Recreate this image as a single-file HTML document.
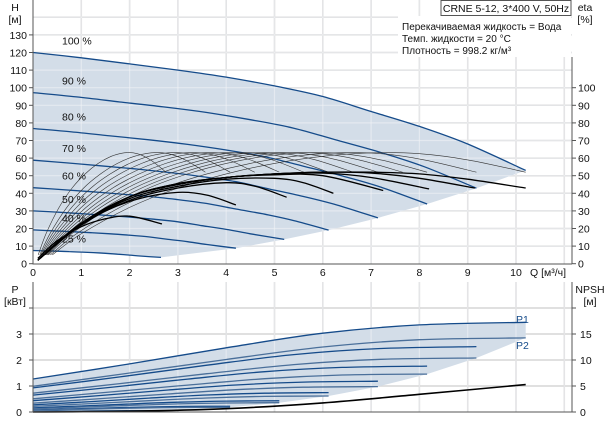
<!DOCTYPE html>
<html><head><meta charset="utf-8"><style>
html,body{margin:0;padding:0;background:#fff}
svg{display:block;font-family:"Liberation Sans",sans-serif}
</style></head><body>
<svg id="c" width="612" height="422" viewBox="0 0 612 422"></svg>
<script>
// ---- data ----
const qTicks=[0,1,2,3,4,5,6,7,8,9,10];
const hTicks=[0,10,20,30,40,50,60,70,80,90,100,110,120,130];
const etaTicks=[0,10,20,30,40,50,60,70,80,90,100];
const pTicks=[0,1,2,3];
const npshTicks=[0,5,10,15];
const speedLabels=["100 %","90 %","80 %","70 %","60 %","50 %","40 %","25 %"];
const speeds=[1,0.9,0.8,0.7,0.6,0.5,0.4,0.25];
const headQ=[
[0,1,2,3,4,5,6,7,8,9,10.2],
[0,0.9,1.8,2.7,3.6,4.5,5.4,6.3,7.2,8.1,9.18],
[0,0.8,1.6,2.4,3.2,4,4.8,5.6,6.4,7.2,8.16],
[0,0.7,1.4,2.1,2.8,3.5,4.2,4.9,5.6,6.3,7.14],
[0,0.6,1.2,1.8,2.4,3,3.6,4.2,4.8,5.4,6.12],
[0,0.5,1,1.5,2,2.5,3,3.5,4,4.5,5.2],
[0,0.4,0.8,1.2,1.6,2,2.4,2.8,3.2,3.6,4.2],
[0,0.25,0.5,0.75,1,1.25,1.5,1.75,2,2.25,2.65]];
const headH=[
[120,117,113.5,110,106,101,95,86.5,78,68,53],
[97.2,94.8,91.9,89.1,85.9,81.8,77,70.1,63.2,55.1,42.9],
[76.8,74.9,72.6,70.4,67.8,64.6,60.8,55.4,49.9,43.5,33.9],
[58.8,57.3,55.6,53.9,51.9,49.5,46.6,42.4,38.2,33.3,26],
[43.2,42.1,40.9,39.6,38.2,36.4,34.2,31.1,28.1,24.5,19.1],
[30,29.3,28.4,27.5,26.5,25.3,23.8,21.6,19.5,17,13.8],
[19.2,18.7,18.2,17.6,17,16.2,15.2,13.8,12.5,10.9,8.8],
[7.5,7.3,7.1,6.9,6.6,6.3,5.9,5.4,4.9,4.3,3.6]];
const thinQ=[0.4,1,2,3,4,5,6,7,8,9,10.2];
const thinEta=[5,17,32,43,51,57,61,63,62.5,59,52];
const thinSpeeds=[0.27,0.35,0.4,0.45,0.5,0.55,0.6,0.65,0.7,0.75,0.8,0.9,1];
const boldQ=[
[0.1,0.5,1,1.5,2,2.67],
[0.1,0.8,1.5,2.2,3,3.6,4.2],
[0.1,1,2,3,4,4.6,5.25],
[0.1,1,2,3,4,5,5.6,6.22],
[0.1,1,2,3,4,5,6,7.25],
[0.1,1,2,3,4,5,6,7,8.2],
[0.1,1,2,3,4,5,6,7,8,9.15],
[0.1,1,2,3,4,5,6,7,8,9,10.2]];
const boldEta=[
[3,13,21,25.5,27,22.6],
[2,19,30,37,40.5,39,33.4],
[2,22,36,43,46,44,37.8],
[2,22,37,44,48,48.5,46,40],
[2,22,38,45,49,50.5,50,41.6],
[2,23,38,45.5,49,51,51.5,49,42.5],
[2,23,38,45.5,49,51,52,51.5,48.5,43],
[2,23,38,45,49,51,52,52,51,48,43]];
const powerQ=[0,2,4,6,8,10.2];
const p1Values=[1.27,1.85,2.47,3.03,3.35,3.45];
const p2Values=[0.99,1.5,2.02,2.5,2.78,2.85];
const npshQ=[0,2,4,6,8,10.2];
const npshValues=[0,0.15,0.63,1.75,3.4,5.27];

// ---- scales ----
const X=q=>33+q*48.3;
const YH=h=>263.7-h*1.76;
const YP=p=>412-p*26;
const YN=n=>412-n*5.2;
const svg=document.getElementById('c');
const NS='http://www.w3.org/2000/svg';
function mk(tag,attrs,parent){const e=document.createElementNS(NS,tag);for(const k in attrs)e.setAttribute(k,attrs[k]);(parent||svg).appendChild(e);return e;}
function spline(pts){let d='M'+pts[0][0].toFixed(1)+','+pts[0][1].toFixed(1);for(let i=0;i<pts.length-1;i++){const p0=pts[i-1]||pts[i],p1=pts[i],p2=pts[i+1],p3=pts[i+2]||p2;const c1=[p1[0]+(p2[0]-p0[0])/6,p1[1]+(p2[1]-p0[1])/6],c2=[p2[0]-(p3[0]-p1[0])/6,p2[1]-(p3[1]-p1[1])/6];d+='C'+c1[0].toFixed(1)+','+c1[1].toFixed(1)+' '+c2[0].toFixed(1)+','+c2[1].toFixed(1)+' '+p2[0].toFixed(1)+','+p2[1].toFixed(1);}return d;}
function txt(s,x,y,anchor,name,size){const t=mk('text',{x:x,y:y,'font-size':size||11,'text-anchor':anchor||'start',fill:'#111'});t.textContent=s;return t;}

// ---- top chart grid ----
const gTop=mk('g',{});


for(let q=1;q<=11;q++){const l=mk('line',{x1:X(q),x2:X(q),y1:0,y2:264,stroke:'#d6d6d6','stroke-width':1.5},gTop);}
for(let h=10;h<=140;h+=10){const l=mk('line',{x1:33,x2:572,y1:YH(h),y2:YH(h),stroke:'#d6d6d6','stroke-width':1.5},gTop);}
// shaded operating area
let poly=[];headQ[0].forEach((q,i)=>poly.push([X(q),YH(headH[0][i])]));
let lower=[];for(let s=0;s<speeds.length;s++){const n=headQ[s].length-1;lower.push([X(headQ[s][n]),YH(headH[s][n])]);}
let bottom=[];for(let i=headQ[7].length-1;i>=0;i--)bottom.push([X(headQ[7][i]),YH(headH[7][i])]);
let d=spline(poly)+lower.slice(1).map(p=>'L'+p[0]+','+p[1]).join('')+bottom.slice(1).map(p=>'L'+p[0]+','+p[1]).join('')+'Z';
const area=mk('path',{d:d,fill:'#d3dde8',stroke:'none'},gTop);


for(let q=1;q<=11;q++){const l=mk('line',{x1:X(q),x2:X(q),y1:0,y2:264,stroke:'#f2f4f7','stroke-width':1.2,opacity:0.55},gTop);}
for(let h=10;h<=140;h+=10){const l=mk('line',{x1:33,x2:572,y1:YH(h),y2:YH(h),stroke:'#f2f4f7','stroke-width':1.2,opacity:0.55},gTop);}
// head curves
speeds.forEach((s,si)=>{const pts=headQ[si].map((q,i)=>[X(q),YH(headH[si][i])]);const p=mk('path',{d:spline(pts),fill:'none',stroke:'#154b8a','stroke-width':1.3},gTop);
const t=txt(speedLabels[si],62,YH(headH[si][0])-8,'start','speed-label-'+Math.round(s*100),10.5);});
// thin efficiency curves
thinSpeeds.forEach(s=>{const pts=thinQ.map((q,i)=>[X(q*s),YH(thinEta[i])]);const p=mk('path',{d:spline(pts),fill:'none',stroke:'#333','stroke-width':0.6},gTop);});
// bold efficiency curves
boldQ.forEach((qs,si)=>{const pts=qs.map((q,i)=>[X(q),YH(boldEta[si][i])]);const p=mk('path',{d:spline(pts),fill:'none',stroke:'#000','stroke-width':1.3},gTop);});
// axes
const ax=mk('path',{d:'M33,0V264H572M572,57V264',fill:'none',stroke:'#555','stroke-width':1},gTop);

hTicks.forEach(h=>{mk('line',{x1:29,x2:33,y1:YH(h),y2:YH(h),stroke:'#555'},gTop);txt(String(h),27,YH(h)+4,'end','h-tick-label',10.5);});
etaTicks.forEach(e=>{mk('line',{x1:572,x2:576,y1:YH(e),y2:YH(e),stroke:'#555'},gTop);txt(String(e),578,YH(e)+4,'start','eta-tick-label',10.5);});
qTicks.forEach(q=>{txt(String(q),X(q),276,'middle','q-tick-label',10.5);});
txt('Q [м³/ч]',530,276,'start','x-axis-title',10.5);
txt('H',15,11,'middle','y-axis-title',10.5);txt('[м]',15,23,'middle','y-axis-unit',10.5);
txt('eta',585,11,'middle','eta-axis-title',10.5);txt('[%]',585,23,'middle','eta-axis-unit',10.5);
// info box
const ib=mk('rect',{x:398,y:16,width:173,height:41,fill:'#fff'},gTop);
txt('Перекачиваемая жидкость = Вода',402,30,'start','liquid-info',10);
txt('Темп. жидкости = 20 °C',402,42,'start','temp-info',10);
txt('Плотность = 998.2 кг/м³',402,54,'start','density-info',10);
const tb=mk('rect',{x:441,y:0.5,width:130,height:15,fill:'#fff',stroke:'#555'},gTop);
txt('CRNE 5-12, 3*400 V, 50Hz',506,12,'middle','chart-title',10.5);

// ---- bottom chart ----
const gB=mk('g',{});


for(let q=1;q<=11;q++){const l=mk('line',{x1:X(q),x2:X(q),y1:282,y2:412,stroke:'#d6d6d6','stroke-width':1.5},gB);}
for(let p=1;p<=4;p++){const l=mk('line',{x1:33,x2:572,y1:YP(p),y2:YP(p),stroke:'#d6d6d6','stroke-width':1.5},gB);}
let top1=powerQ.map((q,i)=>[X(q),YP(p1Values[i])]);
let ends=speeds.map(s=>[X(powerQ[powerQ.length-1]*s),YP(p2Values[p2Values.length-1]*s*s*s)]);
let pd=spline(top1)+ends.map(p=>'L'+p[0].toFixed(1)+','+p[1].toFixed(1)).join('')+'L'+X(0)+','+YP(0)+'Z';
const pa=mk('path',{d:pd,fill:'#d3dde8'},gB);
for(let q=1;q<=11;q++){mk('line',{x1:X(q),x2:X(q),y1:282,y2:412,stroke:'#f2f4f7','stroke-width':1.2,opacity:0.55},gB);}
[[p1Values,'p1'],[p2Values,'p2']].forEach(([vals,nm])=>{speeds.forEach(s=>{const pts=powerQ.map((q,i)=>[X(q*s),YP(vals[i]*s*s*s)]);const p=mk('path',{d:spline(pts),fill:'none',stroke:nm==='p1'?'#154b8a':'#4a6f9a','stroke-width':1.3},gB);});});
const np=mk('path',{d:spline(npshQ.map((q,i)=>[X(q),YN(npshValues[i])])),fill:'none',stroke:'#000','stroke-width':1.6},gB);

const bax=mk('path',{d:'M33,282V412H572M572,282V412',fill:'none',stroke:'#555'},gB);
pTicks.forEach(p=>{mk('line',{x1:29,x2:33,y1:YP(p),y2:YP(p),stroke:'#555'},gB);txt(String(p),22,YP(p)+4,'end','p-tick-label',10.5);});
mk('line',{x1:29,x2:33,y1:YP(4),y2:YP(4),stroke:'#555'},gB);
npshTicks.forEach(n=>{mk('line',{x1:572,x2:576,y1:YN(n),y2:YN(n),stroke:'#555'},gB);txt(String(n),580,YN(n)+4,'start','npsh-tick-label',10.5);});
mk('line',{x1:572,x2:576,y1:YN(20),y2:YN(20),stroke:'#555'},gB);
txt('P',15,293,'middle','p-axis-title',10.5);txt('[кВт]',15,305,'middle','p-axis-unit',10.5);
txt('NPSH',590,293,'middle','npsh-axis-title',10.5);txt('[м]',590,305,'middle','npsh-axis-unit',10.5);
const l1=txt('P1',516,323,'start','p1-label',10.5);l1.setAttribute('fill','#154b8a');
const l2=txt('P2',516,349,'start','p2-label',10.5);l2.setAttribute('fill','#154b8a');
</script>
</body></html>
